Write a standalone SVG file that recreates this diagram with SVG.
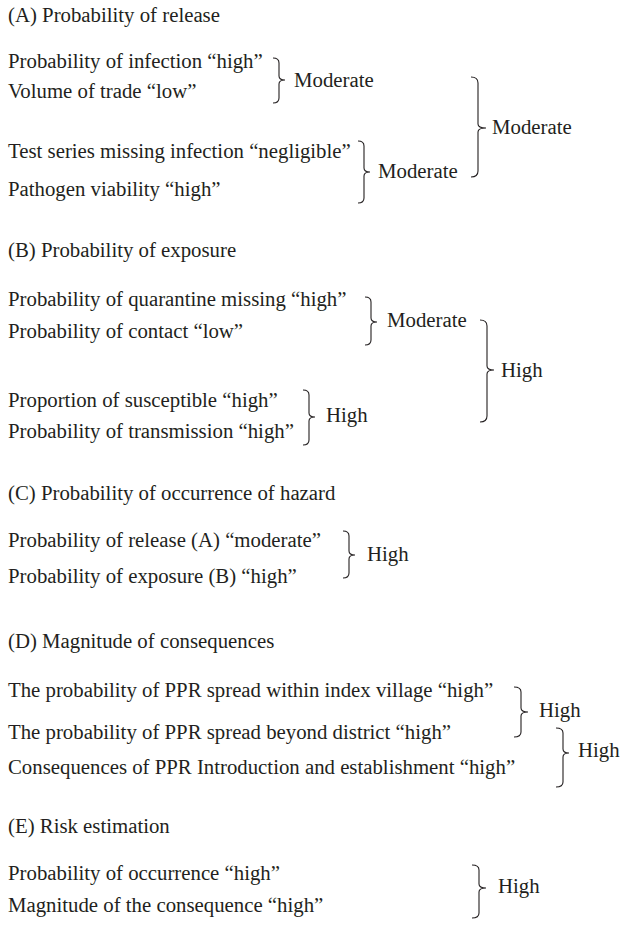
<svg xmlns="http://www.w3.org/2000/svg" width="621" height="925" viewBox="0 0 621 925">
<style>
text{font-family:"Liberation Serif","Times New Roman",serif;font-size:20.8px;fill:#231f20}
.brace{fill:none;stroke:#231f20;stroke-width:1.1}
</style>
<rect width="621" height="925" fill="#fff"/>
<g id="sectionA">
<text x="8" y="22">(A) Probability of release</text>
<g id="a-infection"><text x="8" y="68">Probability of infection “high”</text></g>
<g id="a-trade"><text x="8" y="98">Volume of trade “low”</text></g>
<g id="a-test"><text x="8" y="158">Test series missing infection “negligible”</text></g>
<g id="a-viability"><text x="8" y="196">Pathogen viability “high”</text></g>
<g id="a-mod1"><text x="294" y="87">Moderate</text></g>
<g id="a-mod2"><text x="378" y="178">Moderate</text></g>
<g id="a-result"><text x="492" y="134">Moderate</text></g>
</g>
<g id="sectionB">
<text x="8" y="257">(B) Probability of exposure</text>
<g id="b-quarantine"><text x="8" y="306">Probability of quarantine missing “high”</text></g>
<g id="b-contact"><text x="8" y="338">Probability of contact “low”</text></g>
<g id="b-susceptible"><text x="8" y="407">Proportion of susceptible “high”</text></g>
<g id="b-transmission"><text x="8" y="438">Probability of transmission “high”</text></g>
<g id="b-mod"><text x="387" y="327">Moderate</text></g>
<g id="b-high"><text x="326" y="422">High</text></g>
<g id="b-result"><text x="501" y="377">High</text></g>
</g>
<g id="sectionC">
<text x="8" y="500">(C) Probability of occurrence of hazard</text>
<g id="c-release"><text x="8" y="547">Probability of release (A) “moderate”</text></g>
<g id="c-exposure"><text x="8" y="583">Probability of exposure (B) “high”</text></g>
<g id="c-result"><text x="367" y="561">High</text></g>
</g>
<g id="sectionD">
<text x="8" y="648">(D) Magnitude of consequences</text>
<g id="d-village"><text x="8" y="697">The probability of PPR spread within index village “high”</text></g>
<g id="d-district"><text x="8" y="739">The probability of PPR spread beyond district “high”</text></g>
<g id="d-consequences"><text x="8" y="774">Consequences of PPR Introduction and establishment “high”</text></g>
<g id="d-high"><text x="539" y="717">High</text></g>
<g id="d-result"><text x="578" y="757">High</text></g>
</g>
<g id="sectionE">
<text x="8" y="833">(E) Risk estimation</text>
<g id="e-occurrence"><text x="8" y="880">Probability of occurrence “high”</text></g>
<g id="e-magnitude"><text x="8" y="912">Magnitude of the consequence “high”</text></g>
<g id="e-result"><text x="498" y="893">High</text></g>
</g>
<g id="connectors">
<path class="brace" d="M273,58 Q279,58 279,63 L279,76 Q279,80 285,80 Q279,80 279,84 L279,98 Q279,103 273,103"/>
<path class="brace" d="M358,141 Q364,141 364,146 L364,168 Q364,172 370,172 Q364,172 364,176 L364,198 Q364,203 358,203"/>
<path class="brace" d="M471,77 Q478,77 478,83 L478,124 Q478,128 486,128 Q478,128 478,132 L478,171 Q478,177 471,177"/>
<path class="brace" d="M365,297 Q371,297 371,302 L371,318 Q371,322 377,322 Q371,322 371,326 L371,340 Q371,345 365,345"/>
<path class="brace" d="M303,390 Q309,390 309,395 L309,413 Q309,417 315,417 Q309,417 309,421 L309,440 Q309,445 303,445"/>
<path class="brace" d="M480,320 Q487,320 487,326 L487,366 Q487,370 494,370 Q487,370 487,374 L487,416 Q487,422 480,422"/>
<path class="brace" d="M343,531 Q349,531 349,536 L349,551 Q349,555 355,555 Q349,555 349,559 L349,573 Q349,578 343,578"/>
<path class="brace" d="M514,687 Q521,687 521,692 L521,708 Q521,712 528,712 Q521,712 521,716 L521,732 Q521,737 514,737"/>
<path class="brace" d="M556,728 Q563,728 563,733 L563,749 Q563,753 569,753 Q563,753 563,757 L563,782 Q563,787 556,787"/>
<path class="brace" d="M472,865 Q479,865 479,870 L479,884 Q479,888 486,888 Q479,888 479,892 L479,913 Q479,918 472,918"/>
</g>
</svg>
